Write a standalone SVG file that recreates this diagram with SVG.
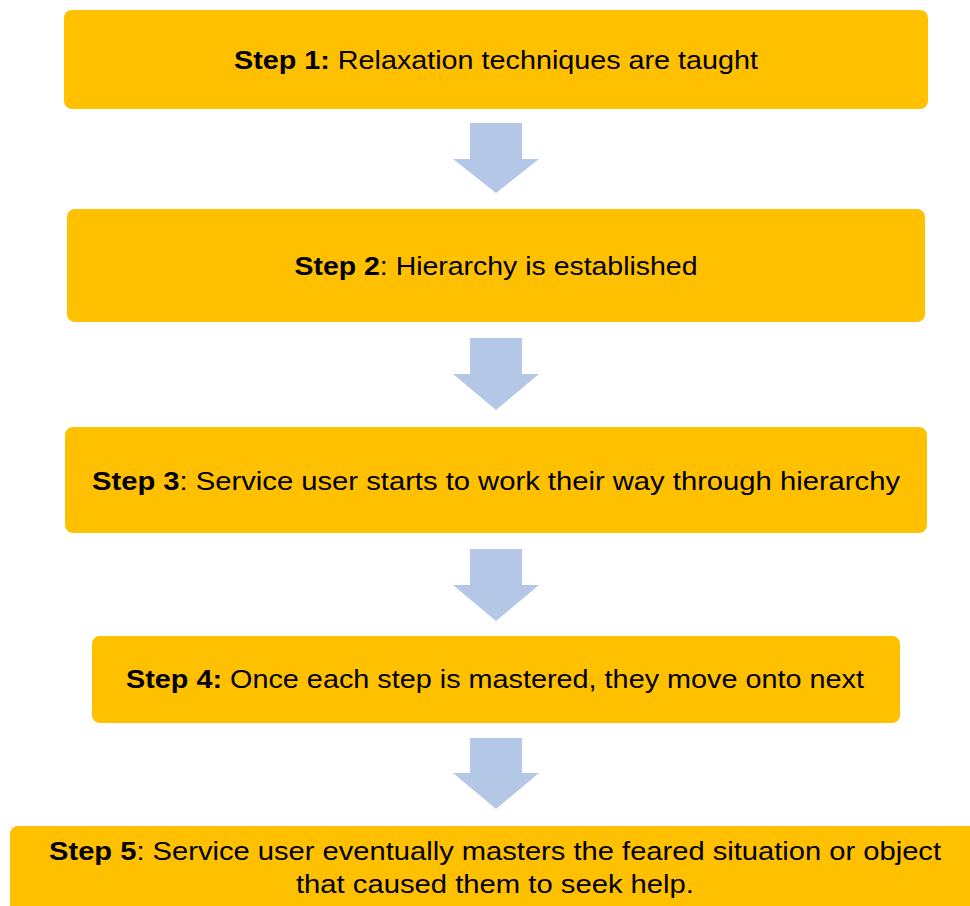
<svg xmlns="http://www.w3.org/2000/svg" width="970" height="906" viewBox="0 0 970 906">
<style>
.box{fill:#FFC000}
.arr{fill:#B4C7E7}
text{font-family:"Liberation Sans",Arial,sans-serif;font-size:26px;fill:#000;text-anchor:middle}
.b{font-weight:bold}
</style>
<rect width="970" height="906" fill="#fff"/>
<g id="connectors">
<polygon class="arr" points="470,123 522,123 522,159 539,159 496,193 453,159 470,159"/>
<polygon class="arr" points="470,338 522,338 522,374 539,374 496,410 453,374 470,374"/>
<polygon class="arr" points="470,549 522,549 522,585 539,585 496,621 453,585 470,585"/>
<polygon class="arr" points="470,738 522,738 522,773 539,773 496,809 453,773 470,773"/>
</g>
<g id="step1">
<rect class="box" x="64" y="10" width="864" height="99" rx="8"/>
<text x="496" y="69" textLength="524" lengthAdjust="spacingAndGlyphs"><tspan class="b">Step 1:</tspan> Relaxation techniques are taught</text>
</g>
<g id="step2">
<rect class="box" x="67" y="209" width="858" height="113" rx="8"/>
<text x="496" y="275" textLength="403" lengthAdjust="spacingAndGlyphs"><tspan class="b">Step 2</tspan>: Hierarchy is established</text>
</g>
<g id="step3">
<rect class="box" x="65" y="427" width="862" height="106" rx="8"/>
<text x="496" y="490" textLength="808" lengthAdjust="spacingAndGlyphs"><tspan class="b">Step 3</tspan>: Service user starts to work their way through hierarchy</text>
</g>
<g id="step4">
<rect class="box" x="92" y="636" width="808" height="87" rx="8"/>
<text x="495" y="688" textLength="738" lengthAdjust="spacingAndGlyphs"><tspan class="b">Step 4:</tspan> Once each step is mastered, they move onto next</text>
</g>
<g id="step5">
<rect class="box" x="10" y="826" width="970" height="100" rx="8"/>
<text x="495" y="860" textLength="892" lengthAdjust="spacingAndGlyphs"><tspan class="b">Step 5</tspan>: Service user eventually masters the feared situation or object</text>
<text x="495" y="893" textLength="398" lengthAdjust="spacingAndGlyphs">that caused them to seek help.</text>
</g>
</svg>
